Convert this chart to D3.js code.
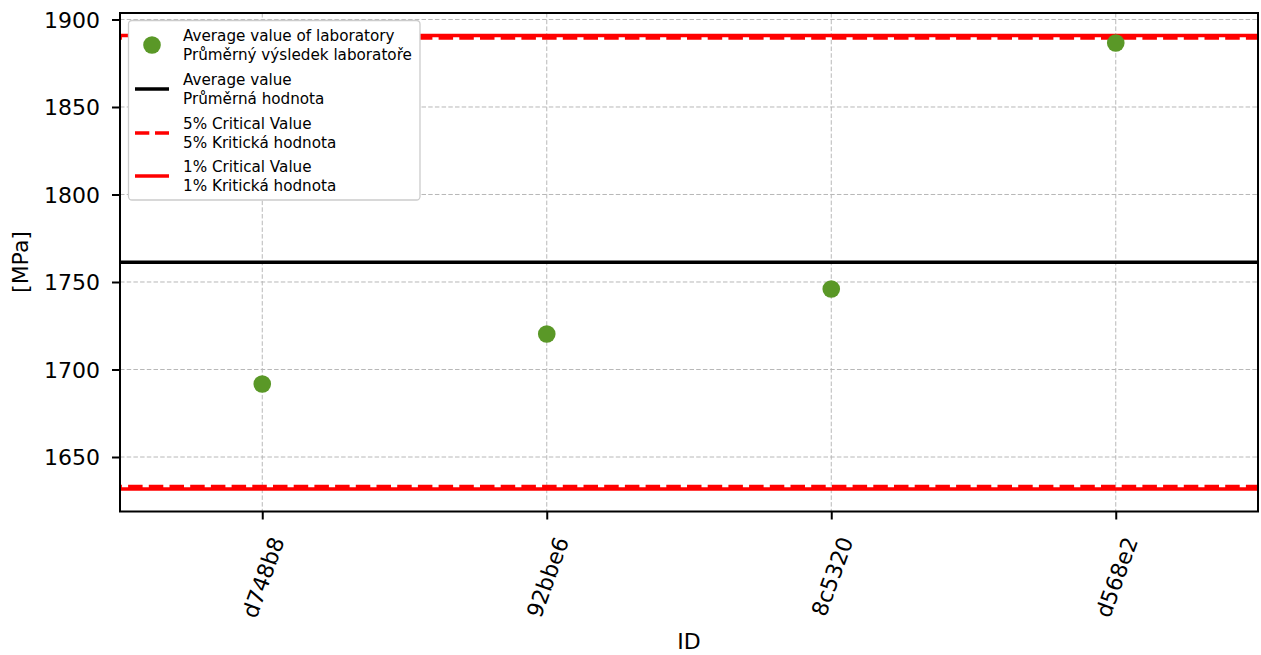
<!DOCTYPE html>
<html>
<head>
<meta charset="utf-8">
<script src="https://cdn.jsdelivr.net/npm/d3@7"></script>
<style>
  body { margin: 0; background: #fff; }
  svg { display: block; font-family: "DejaVu Sans", sans-serif; }
</style>
</head>
<body>
<svg id="chart" width="1261" height="655"></svg>
<script>
// ---- data ----
const ids = ["d748b8", "92bbe6", "8c5320", "d568e2"];
const labMeans = [1691.7, 1720.3, 1746.0, 1886.6];
const averageValue = [1761.3];
const crit5 = [1633.1, 1889.4];
const crit1 = [1631.7, 1890.9];
const yTicks = [1650, 1700, 1750, 1800, 1850, 1900];
const legendLabels = [
  ["Average value of laboratory", "Průměrný výsledek laboratoře"],
  ["Average value", "Průměrná hodnota"],
  ["5% Critical Value", "5% Kritická hodnota"],
  ["1% Critical Value", "1% Kritická hodnota"]
];

(function () {
// ---- layout ----
const svg = d3.select("#chart");
const pL = 120, pR = 1258, pT = 13, pB = 511.5;
const green = "#5a9827";
const fs = 22;

const x = d3.scalePoint().domain(ids).range([pL, pR]).padding(0.5);
const y = d3.scaleLinear().domain([1618.86, 1903.71]).range([pB, pT]);

// grid
const grid = svg.append("g");
grid.selectAll("line.gy").data(yTicks).enter().append("line")
  .attr("x1", pL).attr("x2", pR)
  .attr("y1", d => y(d)).attr("y2", d => y(d))
  .attr("stroke", "#b8b8b8").attr("stroke-width", 1).attr("stroke-dasharray", "4.5,2.2");
grid.selectAll("line.gx").data(ids).enter().append("line")
  .attr("x1", d => x(d)).attr("x2", d => x(d))
  .attr("y1", pT).attr("y2", pB)
  .attr("stroke", "#b8b8b8").attr("stroke-width", 1).attr("stroke-dasharray", "4.5,2.2");

// reference lines
const refs = svg.append("g");
refs.selectAll("line.c1").data(crit1).enter().append("line")
  .attr("x1", pL).attr("x2", pR)
  .attr("y1", d => y(d)).attr("y2", d => y(d))
  .attr("stroke", "#ff0000").attr("stroke-width", 3.5);
refs.selectAll("line.c5").data(crit5).enter().append("line")
  .attr("x1", pL).attr("x2", pR)
  .attr("y1", d => y(d)).attr("y2", d => y(d))
  .attr("stroke", "#ff0000").attr("stroke-width", 3.5)
  .attr("stroke-dasharray", "14.5,6.2").attr("stroke-dashoffset", 12.6);
refs.selectAll("line.avg").data(averageValue).enter().append("line")
  .attr("x1", pL).attr("x2", pR)
  .attr("y1", d => y(d)).attr("y2", d => y(d))
  .attr("stroke", "#000").attr("stroke-width", 3.5);

// points
svg.append("g").selectAll("circle").data(labMeans).enter().append("circle")
  .attr("cx", (d, i) => x(ids[i])).attr("cy", d => y(d))
  .attr("r", 8.8).attr("fill", green);

// axes frame
svg.append("rect").attr("x", pL).attr("y", pT)
  .attr("width", pR - pL).attr("height", pB - pT)
  .attr("fill", "none").attr("stroke", "#000").attr("stroke-width", 2);

// y axis
const yAxis = d3.axisLeft(y).tickValues(yTicks).tickSize(8).tickPadding(12).tickFormat(d3.format("d"));
const gy = svg.append("g").attr("transform", `translate(${pL},0)`).call(yAxis);
gy.select(".domain").remove();
gy.selectAll(".tick line").attr("stroke", "#000").attr("stroke-width", 2);
gy.selectAll(".tick text").attr("font-size", fs).attr("fill", "#000")
  .attr("font-family", "DejaVu Sans").attr("dy", "0.36em");

// x axis
const xAxis = d3.axisBottom(x).tickSize(8).tickFormat("");
const gx = svg.append("g").attr("transform", `translate(0,${pB})`).call(xAxis);
gx.select(".domain").remove();
gx.selectAll(".tick line").attr("stroke", "#000").attr("stroke-width", 2);

// rotated x labels (bbox centered on tick, top below tick)
const ang = 70 * Math.PI / 180;
ids.forEach(id => {
  const t = svg.append("text").text(id)
    .attr("font-size", fs).attr("font-family", "DejaVu Sans")
    .attr("text-anchor", "middle").attr("dy", "0.35em");
  const L = t.node().getComputedTextLength();
  const h = fs * 1.17;
  const halfH = (L / 2) * Math.sin(ang) + (h / 2) * Math.cos(ang);
  const cx = x(id) + 1, cy = pB + 8 + 14 + halfH;
  t.attr("transform", `translate(${cx},${cy}) rotate(-70)`);
});

// axis titles
svg.append("text").text("ID").attr("x", (pL + pR) / 2).attr("y", 649)
  .attr("text-anchor", "middle").attr("font-size", fs);
svg.append("text").text("[MPa]")
  .attr("transform", `translate(28,262) rotate(-90)`)
  .attr("text-anchor", "middle").attr("font-size", fs);

// legend
const lg = svg.append("g");
lg.append("rect").attr("x", 128.5).attr("y", 20.5).attr("width", 291.5).attr("height", 179.5)
  .attr("rx", 3.5).attr("fill", "#fff").attr("stroke", "#cccccc").attr("stroke-width", 1.3);
const entryY = [45, 89, 133, 176];
legendLabels.forEach((lab, i) => {
  const cy = entryY[i];
  lg.append("text").attr("x", 183).attr("y", cy - 9 + 5.3).attr("font-size", 15.2).text(lab[0]);
  lg.append("text").attr("x", 183).attr("y", cy + 9.3 + 5.3).attr("font-size", 15.2).text(lab[1]);
});
lg.append("circle").attr("cx", 152).attr("cy", entryY[0]).attr("r", 8.8).attr("fill", green);
lg.append("line").attr("x1", 135).attr("x2", 169).attr("y1", entryY[1]).attr("y2", entryY[1])
  .attr("stroke", "#000").attr("stroke-width", 3.5);
lg.append("line").attr("x1", 135).attr("x2", 169).attr("y1", entryY[2]).attr("y2", entryY[2])
  .attr("stroke", "#ff0000").attr("stroke-width", 3.5).attr("stroke-dasharray", "14.3,5.7");
lg.append("line").attr("x1", 135).attr("x2", 169).attr("y1", entryY[3]).attr("y2", entryY[3])
  .attr("stroke", "#ff0000").attr("stroke-width", 3.5);
})();
</script>
</body>
</html>
